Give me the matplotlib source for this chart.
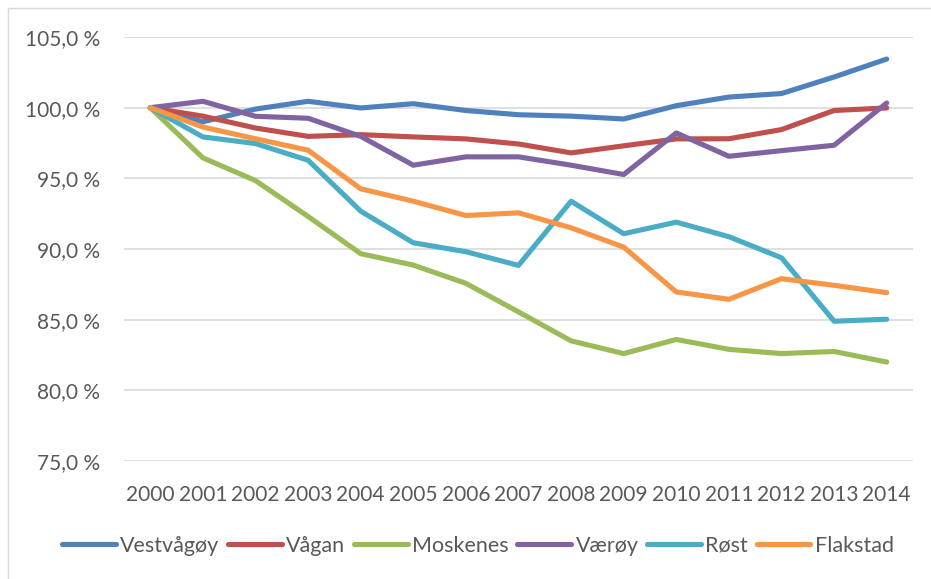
import matplotlib
matplotlib.use("Agg")
import matplotlib.pyplot as plt
from matplotlib.lines import Line2D
from matplotlib.ticker import FuncFormatter

years = list(range(2000, 2015))
vestvagoy = [100.0, 99.0, 99.9, 100.45, 99.98, 100.28, 99.8, 99.5, 99.4, 99.2, 100.14, 100.75, 101.0, 102.17, 103.44]
vagan     = [100.0, 99.4, 98.56, 97.97, 98.09, 97.93, 97.79, 97.43, 96.8, 97.3, 97.79, 97.8, 98.45, 99.8, 99.98]
moskenes  = [100.0, 96.45, 94.84, 92.3, 89.67, 88.86, 87.57, 85.55, 83.5, 82.6, 83.6, 82.9, 82.6, 82.75, 82.0]
varoy     = [100.0, 100.45, 99.39, 99.25, 97.97, 95.93, 96.52, 96.52, 95.93, 95.27, 98.21, 96.56, 96.96, 97.34, 100.33]
rost      = [100.0, 97.93, 97.46, 96.28, 92.68, 90.44, 89.81, 88.84, 93.38, 91.08, 91.9, 90.87, 89.38, 84.89, 85.03]
flakstad  = [100.0, 98.63, 97.8, 96.99, 94.26, 93.38, 92.37, 92.56, 91.5, 90.13, 86.96, 86.44, 87.9, 87.43, 86.91]

names = ["Vestvågøy", "Vågan", "Moskenes", "Værøy", "Røst", "Flakstad"]
series = [vestvagoy, vagan, moskenes, varoy, rost, flakstad]
colors = ["#4F81BD", "#C0504D", "#9BBB59", "#8064A2", "#4BACC6", "#F79646"]
yticks = [75, 80, 85, 90, 95, 100, 105]

plt.rcParams['font.family'] = ['Lato', 'DejaVu Sans']
text_color = "#595959"

fig = plt.figure(figsize=(9.31, 5.79), dpi=100)
ax = fig.add_axes([124/931, 1-461/579, (913-124)/931, (461-37)/579])

xs = list(range(len(years)))
for name, vals, c in zip(names, series, colors):
    ax.plot(xs, vals, color=c, lw=3.7, solid_capstyle='round', solid_joinstyle='round', label=name)

ax.set_xlim(-0.5, len(years)-0.5)
ax.set_ylim(75, 105)
ax.set_yticks(yticks)
ax.yaxis.set_major_formatter(FuncFormatter(lambda v, p: f"{v:.1f}".replace('.', ',') + " %"))
ax.set_xticks(xs)
ax.set_xticklabels([str(y) for y in years])
ax.grid(axis='y', color='#D9D9D9', lw=1.2)
ax.set_axisbelow(True)
for s in ax.spines.values():
    s.set_visible(False)
ax.tick_params(axis='both', length=0, labelsize=15, labelcolor=text_color)
ax.tick_params(axis='y', pad=17)
ax.tick_params(axis='x', pad=17)

leg = fig.legend(loc='center', bbox_to_anchor=(478/931, 1-546/579), ncol=6, frameon=False,
                 handlelength=2.5, handletextpad=0.2, columnspacing=0.4, fontsize=15.5,
                 labelcolor=text_color)
for h in leg.get_lines():
    h.set_linewidth(3.7)
    h.set_solid_capstyle('round')

# chart-area border (left and top visible)
fig.add_artist(Line2D([7.5/931, 7.5/931], [0, 1-8/579], color='#D9D9D9', lw=1, transform=fig.transFigure))
fig.add_artist(Line2D([7.5/931, 1], [1-8/579, 1-8/579], color='#D9D9D9', lw=1, transform=fig.transFigure))

fig.savefig("out.png", dpi=100)
